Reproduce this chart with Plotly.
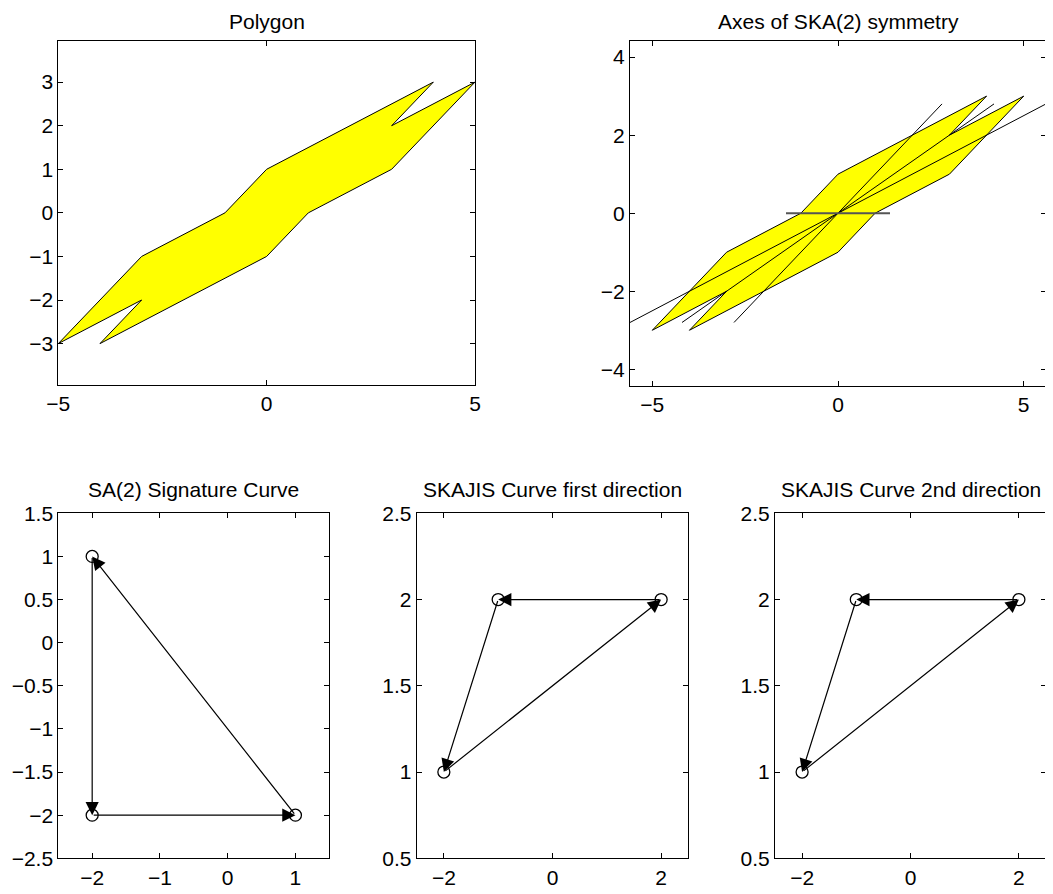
import plotly.graph_objects as go

# ---------------- data ----------------
poly_x = [-5, -3, -1, 0, 4, 3, 5, 3, 1, 0, -4, -3, -5]
poly_y = [-3, -1, 0, 1, 3, 2, 3, 1, 0, -1, -3, -2, -3]

# symmetry axes: segments (x0, y0, x1, y1)
axis_x0 = [-5.6, -4.2, -2.8]
axis_y0 = [-2.8, -2.8, -2.8]
axis_x1 = [5.6, 4.2, 2.8]
axis_y1 = [2.8, 2.8, 2.8]
horiz_x = [-1.4, 1.4]
horiz_y = [0, 0]

sa_x = [1, -2, -2, 1]
sa_y = [-2, 1, -2, -2]

sk1_x = [2, -1, -2, 2]
sk1_y = [2, 2, 1, 2]

sk2_x = [2, -1, -2, 2]
sk2_y = [2, 2, 1, 2]

titles = ["Polygon", "Axes of SKA(2) symmetry", "SA(2) Signature Curve",
          "SKAJIS Curve first direction", "SKAJIS Curve 2nd direction"]

OFF = 8  # page body margin
W, H = 1045, 884
FONT = dict(family="Liberation Sans, Arial, Helvetica, sans-serif", size=21, color="black")

def px2x(p):
    return (p - OFF) / W

def px2y(p):
    return 1 - (p - OFF) / H

# subplot boxes in page pixels: (left, right, top, bottom)
boxes = [
    (58.3, 475.0, 40.7, 385.0),
    (630.0, 1046.0, 40.7, 385.7),
    (58.3, 329.3, 513.3, 858.3),
    (416.7, 688.3, 513.3, 858.3),
    (775.0, 1046.0, 513.3, 858.3),
]
xranges = [[-5, 5], [-5.6, 5.6], [-2.5, 1.5], [-2.5, 2.5], [-2.5, 2.5]]
yranges = [[-3.95, 3.95], [-4.42, 4.42], [-2.5, 1.5], [0.5, 2.5], [0.5, 2.5]]
xticks = [[-5, 0, 5], [-5, 0, 5], [-2, -1, 0, 1], [-2, 0, 2], [-2, 0, 2]]
yticks = [[-3, -2, -1, 0, 1, 2, 3], [-4, -2, 0, 2, 4],
          [-2.5, -2, -1.5, -1, -0.5, 0, 0.5, 1, 1.5],
          [0.5, 1, 1.5, 2, 2.5], [0.5, 1, 1.5, 2, 2.5]]

fig = go.Figure()

def ax_names(i):
    n = "" if i == 0 else str(i + 1)
    return "x" + n, "y" + n

# polygon in plots 1 & 2
for i in (0, 1):
    xa, ya = ax_names(i)
    fig.add_trace(go.Scatter(x=poly_x, y=poly_y, mode="lines", fill="toself",
                             fillcolor="#FFFF00", line=dict(color="black", width=1),
                             xaxis=xa, yaxis=ya, showlegend=False, hoverinfo="skip"))

# symmetry axes
xa, ya = ax_names(1)
for x0, y0, x1, y1 in zip(axis_x0, axis_y0, axis_x1, axis_y1):
    fig.add_trace(go.Scatter(x=[x0, x1], y=[y0, y1], mode="lines",
                             line=dict(color="black", width=1),
                             xaxis=xa, yaxis=ya, showlegend=False, hoverinfo="skip"))
fig.add_trace(go.Scatter(x=horiz_x, y=horiz_y, mode="lines",
                         line=dict(color="#555555", width=2),
                         xaxis=xa, yaxis=ya, showlegend=False, hoverinfo="skip"))

annotations = []
curves = [(2, sa_x, sa_y), (3, sk1_x, sk1_y), (4, sk2_x, sk2_y)]
for i, cx, cy in curves:
    xa, ya = ax_names(i)
    fig.add_trace(go.Scatter(x=cx[:-1], y=cy[:-1], mode="markers",
                             marker=dict(symbol="circle-open", size=12, color="black",
                                         line=dict(width=1.3, color="black")),
                             xaxis=xa, yaxis=ya, showlegend=False, hoverinfo="skip"))
    for k in range(len(cx) - 1):
        annotations.append(dict(
            x=cx[k + 1], y=cy[k + 1], ax=cx[k], ay=cy[k],
            xref=xa, yref=ya, axref=xa, ayref=ya,
            showarrow=True, arrowhead=2, arrowsize=2.2, arrowwidth=1.2,
            arrowcolor="black", standoff=0, startstandoff=0, text=""))

layout = dict(width=W, height=H, margin=dict(l=0, r=0, t=0, b=0),
              paper_bgcolor="white", plot_bgcolor="white", font=FONT,
              showlegend=False)

for i, (l, r, t, b) in enumerate(boxes):
    n = "" if i == 0 else str(i + 1)
    common = dict(showline=True, linecolor="black", linewidth=1, mirror="ticks",
                  ticks="inside", ticklen=5, tickwidth=1, tickcolor="black",
                  showgrid=False, zeroline=False, tickfont=FONT, fixedrange=True,
                  automargin=False)
    layout["xaxis" + n] = dict(domain=[px2x(l), min(px2x(r), 1)], range=xranges[i],
                               tickvals=xticks[i], anchor="y" + n, **common)
    layout["yaxis" + n] = dict(domain=[px2y(b), px2y(t)], range=yranges[i],
                               tickvals=yticks[i], anchor="x" + n, **common)
    if i < 2:
        annotations.append(dict(text=titles[i], x=px2x((l + r) / 2), y=1,
                                xref="paper", yref="paper", showarrow=False,
                                xanchor="center", yanchor="top", font=FONT))
    else:
        annotations.append(dict(text=titles[i], x=px2x((l + r) / 2), y=px2y(490),
                                xref="paper", yref="paper", showarrow=False,
                                xanchor="center", yanchor="middle", font=FONT))

layout["annotations"] = annotations
fig.update_layout(**layout)
fig.write_html("out.html")
